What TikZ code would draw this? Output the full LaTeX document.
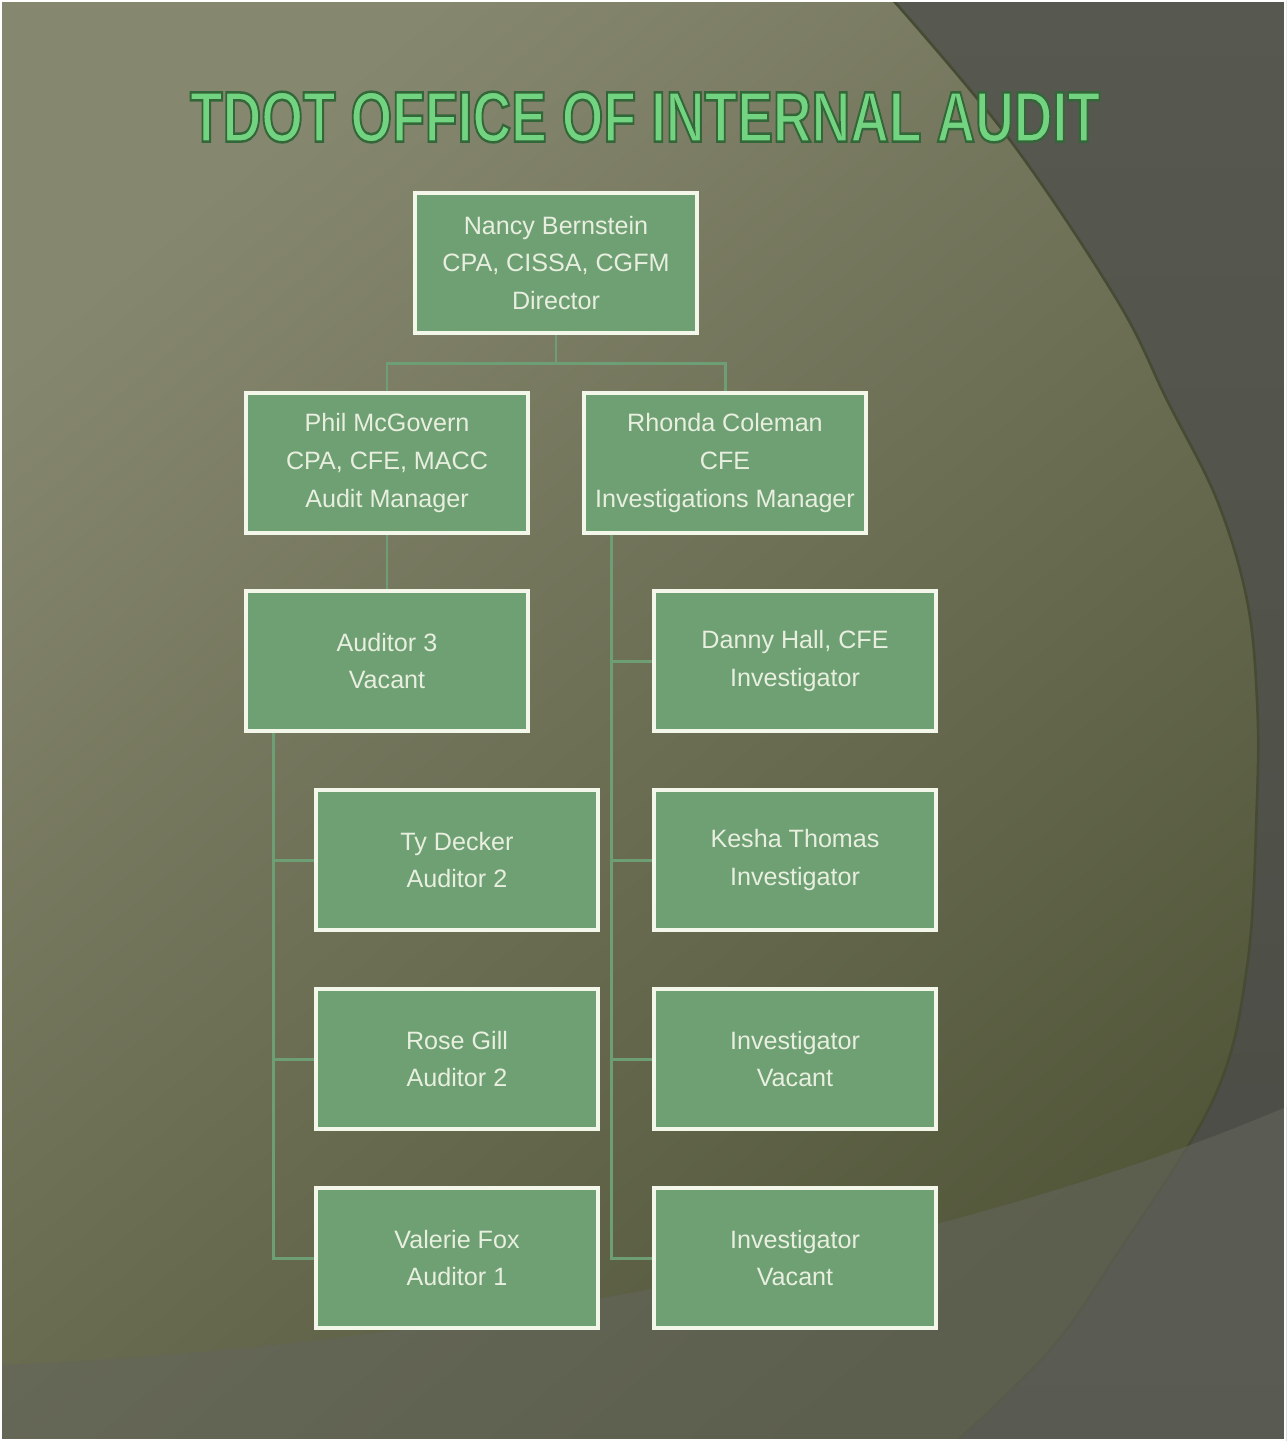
\documentclass[tikz,border=0pt]{standalone}
\usepackage{fontspec}
\setmainfont{Liberation Sans}
\usepackage{tikz}
\usetikzlibrary{calc}
\usepackage{xcolor}

\definecolor{bgtop}{HTML}{86876F}
\definecolor{bgmid}{HTML}{6B6A4C}
\definecolor{bglow}{HTML}{53573A}
\definecolor{bgdark}{HTML}{575950}
\definecolor{bgdarker}{HTML}{4A4B44}
\definecolor{bandgrey}{HTML}{64655C}
\definecolor{arcline}{HTML}{464B33}
\definecolor{boxgreen}{HTML}{6EA073}
\definecolor{boxrim}{HTML}{F2F7EA}
\definecolor{boxtext}{HTML}{E8EFDF}
\definecolor{linkgreen}{HTML}{6E9F74}
\definecolor{titlegreen}{HTML}{72D480}

% outlined title letters (fill + dark green stroke)
\newcommand{\outlinedtitle}[1]{%
  \special{pdf:code q 2 Tr 0.35 w 0.2 0.4 0.22 RG}#1\special{pdf:code Q}}

\tikzset{
  staffbox/.style={draw=boxrim,line width=2pt,fill=boxgreen,text=boxtext,
    minimum width=5.64cm,minimum height=2.8cm,align=center,
    font=\fontsize{14.3}{21.6}\selectfont},
  orgline/.style={draw=linkgreen,line width=1.7pt},
}

\begin{document}
\begin{tikzpicture}[x=0.02cm,y=-0.02cm]
\useasboundingbox (0,0) rectangle (1286,1441);
% slide background
\shade[top color=bgdark,bottom color=bgdarker] (0,0) rectangle (1286,1441);
\shade[top color=bgtop,middle color=bgmid,bottom color=bglow,shading angle=40]
  (0,0) -- plot[smooth,tension=0.6] coordinates {(893,0) (1010,140) (1117,300) (1167,400) (1217,500) (1247,600) (1257,700) (1257,800) (1247,967) (1213,1100) (1113,1260) (1050,1350) (957,1441)} -- (0,1441) -- cycle;
\draw[arcline,line width=1.5pt] plot[smooth,tension=0.6] coordinates {(893,0) (1010,140) (1117,300) (1167,400) (1217,500) (1247,600) (1257,700) (1257,800) (1247,967) (1213,1100) (1113,1260) (1050,1350) (957,1441)};
\fill[bandgrey,opacity=0.6] (0,1365) .. controls (500,1345) and (1000,1230) .. (1286,1107) -- (1286,1441) -- (0,1441) -- cycle;
\draw[white,line width=1.2pt] (1,1) rectangle (1285,1440);

% title
\node[text=titlegreen] (title) at (645,117) {\resizebox{18.2cm}{1.0cm}{\outlinedtitle{\bfseries TDOT OFFICE OF INTERNAL AUDIT}}};

% staff
\node[staffbox] (director) at (556,263) {Nancy Bernstein\\CPA, CISSA, CGFM\\Director};
\node[staffbox] (auditmgr) at (387,463) {Phil McGovern\\CPA, CFE, MACC\\Audit Manager};
\node[staffbox] (invmgr) at (725,463) {Rhonda Coleman\\CFE\\Investigations Manager};
\node[staffbox] (auditor3) at (387,661) {Auditor 3\\Vacant};
\node[staffbox] (decker) at (457,860) {Ty Decker\\Auditor 2};
\node[staffbox] (gill) at (457,1059) {Rose Gill\\Auditor 2};
\node[staffbox] (fox) at (457,1258) {Valerie Fox\\Auditor 1};
\node[staffbox] (hall) at (795,661) {Danny Hall, CFE\\Investigator};
\node[staffbox] (thomas) at (795,860) {Kesha Thomas\\Investigator};
\node[staffbox] (invA) at (795,1059) {Investigator\\Vacant};
\node[staffbox] (invB) at (795,1258) {Investigator\\Vacant};

% reporting lines
\draw[orgline] (director.south) -- ++(0,29) -| (auditmgr.north);
\draw[orgline] (director.south) -- ++(0,29) -| (invmgr.north);
\draw[orgline] (auditmgr.south) -- (auditor3.north);
\foreach \n in {decker,gill,fox}
  \draw[orgline] ([xshift=0.58cm]auditor3.south west) |- (\n.west);
\foreach \n in {hall,thomas,invA,invB}
  \draw[orgline] ([xshift=0.58cm]invmgr.south west) |- (\n.west);
\end{tikzpicture}
\end{document}
